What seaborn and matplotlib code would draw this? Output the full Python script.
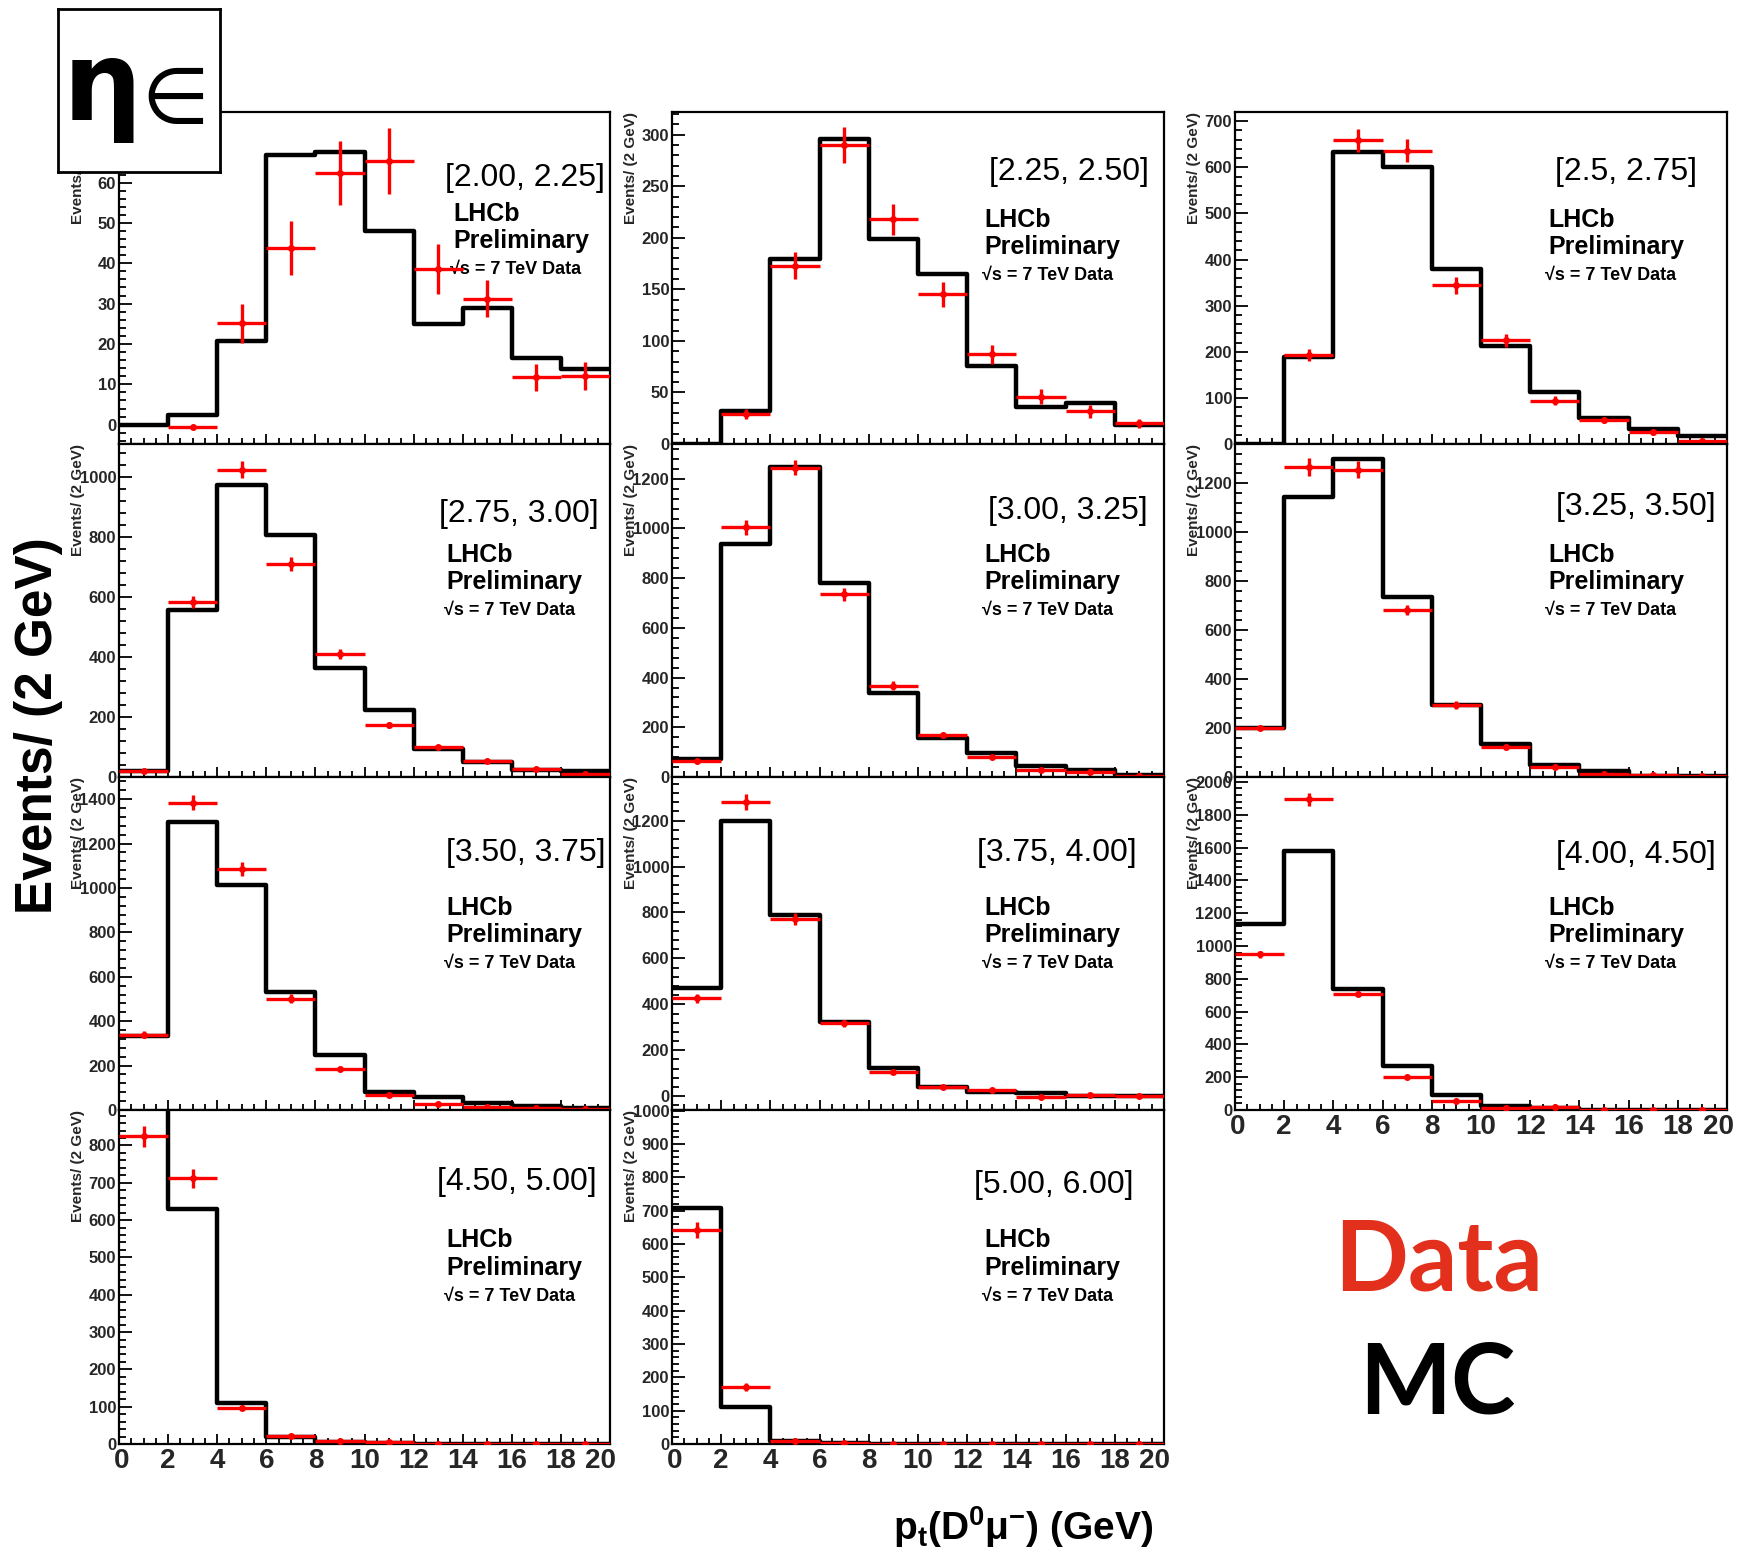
import numpy as np
import matplotlib
matplotlib.use("Agg")
import matplotlib.pyplot as plt
import seaborn as sns
from matplotlib.ticker import MultipleLocator
from matplotlib.transforms import ScaledTranslation

sns.set_theme(style="white")
plt.rcParams['font.family'] = ['Liberation Sans', 'DejaVu Sans']
plt.rcParams['font.weight'] = 'bold'
plt.rcParams['mathtext.fontset'] = 'custom'
plt.rcParams['mathtext.rm'] = 'Liberation Sans:bold'
plt.rcParams['mathtext.bf'] = 'Liberation Sans:bold'
plt.rcParams['mathtext.it'] = 'Liberation Sans:bold:italic'
plt.rcParams['mathtext.sf'] = 'Liberation Sans:bold'
plt.rcParams['mathtext.default'] = 'rm'

# ---------------- data ----------------
bin_edges = [0, 2, 4, 6, 8, 10, 12, 14, 16, 18, 20]
bin_centers = [1, 3, 5, 7, 9, 11, 13, 15, 17, 19]
nan = float('nan')

eta_labels = ["[2.00, 2.25]", "[2.25, 2.50]", "[2.5, 2.75]",
              "[2.75, 3.00]", "[3.00, 3.25]", "[3.25, 3.50]",
              "[3.50, 3.75]", "[3.75, 4.00]", "[4.00, 4.50]",
              "[4.50, 5.00]", "[5.00, 6.00]"]

mc_1 = [0, 2.5, 20.7, 66.8, 67.5, 48.1, 25.0, 28.8, 16.5, 13.9]
data_1 = [nan, -0.5, 25.1, 43.7, 62.3, 65.3, 38.7, 31.2, 11.7, 12.1]
err_1 = [0, 0.5, 4.9, 6.7, 7.9, 8.2, 6.2, 4.6, 3.4, 3.4]

mc_2 = [0, 32.3, 179, 296, 199, 165, 75.8, 35.5, 39.4, 18.4]
data_2 = [nan, 29, 173, 290, 218, 145, 87, 46, 31.6, 20]
err_2 = [0, 5, 13, 17, 15, 12, 9, 7, 6, 4]

mc_3 = [0, 189, 634, 600, 380, 213, 113, 57, 32, 18]
data_3 = [nan, 193, 659, 636, 344, 225, 94, 52, 25, 7]
err_3 = [0, 13, 25, 25, 18, 14, 10, 7, 5, 3]

mc_4 = [19, 557, 972, 806, 364, 223, 95, 50, 22, 20]
data_4 = [19, 585, 1025, 710, 410, 175, 100, 52, 26, 11]
err_4 = [4, 20, 28, 22, 17, 10, 8, 6, 4, 3]

mc_5 = [73, 938, 1249, 780, 338, 158, 97, 43, 30, 10]
data_5 = [64, 1005, 1245, 735, 368, 169, 80, 30, 19, 3]
err_5 = [8, 30, 30, 25, 17, 10, 8, 5, 4, 3]

mc_6 = [202, 1142, 1300, 735, 295, 136, 51, 23, 5, 3]
data_6 = [199, 1266, 1255, 682, 294, 124, 41, 12, 10, 3]
err_6 = [8, 35, 35, 22, 15, 10, 6, 4, 3, 2]

mc_7 = [334, 1298, 1013, 531, 250, 79, 57, 30, 18, 7]
data_7 = [340, 1385, 1085, 501, 184, 67, 27, 15, 10, 4]
err_7 = [15, 35, 30, 20, 10, 6, 5, 4, 3, 2]

mc_8 = [470, 1197, 790, 324, 121, 41, 19, 12, 1, 0]
data_8 = [426, 1280, 772, 317, 106, 38, 29, -3, 4, 1]
err_8 = [20, 35, 25, 15, 10, 6, 5, 4, 2, 1]

mc_9 = [1133, 1578, 735, 271, 92, 27, 10, 0, 0, 0]
data_9 = [949, 1894, 710, 204, 53, 10, 16, 0, 0, 0]
err_9 = [20, 40, 15, 8, 6, 3, 3, 0, 0, 0]

mc_10 = [900, 631, 111, 19, 5, 3, 0, 0, 0, 0]
data_10 = [825, 712, 97, 22, 7, 5, 0, 0, 0, 0]
err_10 = [28, 25, 6, 4, 2, 1, 0, 0, 0, 0]

mc_11 = [707, 112, 10, 4, 0, 0, 0, 0, 0, 0]
data_11 = [642, 172, 10, 3, 1, 0, 0, 0, 0, 0]
err_11 = [25, 12, 3, 2, 1, 0, 0, 0, 0, 0]

mc_all = [mc_1, mc_2, mc_3, mc_4, mc_5, mc_6, mc_7, mc_8, mc_9, mc_10, mc_11]
data_all = [data_1, data_2, data_3, data_4, data_5, data_6, data_7, data_8,
            data_9, data_10, data_11]
err_all = [err_1, err_2, err_3, err_4, err_5, err_6, err_7, err_8, err_9,
           err_10, err_11]

y_limits = [(-4.8, 77.5), (0, 322), (0, 720), (0, 1110), (0, 1340), (0, 1360),
            (0, 1500), (-60, 1390), (0, 2030), (0, 895), (0, 1002)]
y_major = [10, 50, 100, 200, 200, 200, 200, 200, 200, 100, 100]
y_minor = [2, 10, 20, 40, 40, 40, 40, 40, 40, 20, 20]

# ---------------- layout (pixels in 1739 x 1556) ----------------
W, H = 1739, 1556
col_left = [119, 672, 1235]
col_right = [610, 1164, 1727]
row_top = [112, 444, 777, 1110]
row_bot = [444, 777, 1110, 1444]
grid = [(0, 0), (0, 1), (0, 2), (1, 0), (1, 1), (1, 2),
        (2, 0), (2, 1), (2, 2), (3, 0), (3, 1)]
bottom_panels = {8, 9, 10}

lab_pos = [(0.99, 0.80), (0.97, 0.82), (0.94, 0.82), (0.977, 0.79),
           (0.966, 0.80), (0.977, 0.81), (0.99, 0.773), (0.944, 0.773),
           (0.977, 0.767), (0.973, 0.785), (0.937, 0.775)]
lhcb_pos = [(0.68, 0.693), (0.635, 0.675), (0.636, 0.675), (0.666, 0.667),
            (0.635, 0.667), (0.636, 0.667), (0.666, 0.607), (0.635, 0.607),
            (0.636, 0.607), (0.666, 0.61), (0.635, 0.61)]
line_gap1 = 0.082
line_gap2 = 0.168

fig = plt.figure(figsize=(W / 100, H / 100), dpi=100)
fig.patch.set_facecolor('white')

axes = []
for i in range(11):
    r, c = grid[i]
    left = col_left[c] / W
    width = (col_right[c] - col_left[c]) / W
    bottom = 1 - row_bot[r] / H
    height = (row_bot[r] - row_top[r]) / H
    ax = fig.add_axes([left, bottom, width, height])
    ax.set_facecolor('white')
    axes.append(ax)

    sns.histplot(x=bin_centers, weights=mc_all[i], bins=bin_edges,
                 element='step', fill=False, color='black', linewidth=3.2,
                 ax=ax)
    ax.errorbar(bin_centers, data_all[i], xerr=1, yerr=err_all[i], fmt='o',
                color='#ff0000', ms=4, elinewidth=2.4, capsize=0, zorder=5)

    ax.set_xlim(0, 20)
    ax.set_ylim(*y_limits[i])
    ax.xaxis.set_major_locator(MultipleLocator(2))
    ax.xaxis.set_minor_locator(MultipleLocator(0.5))
    ax.yaxis.set_major_locator(MultipleLocator(y_major[i]))
    ax.yaxis.set_minor_locator(MultipleLocator(y_minor[i]))
    ax.tick_params(axis='both', which='both', direction='in', color='black',
                   width=1.3, top=False, right=False, left=True, bottom=True)
    ax.tick_params(axis='y', which='major', length=9, labelsize=12, pad=2)
    ax.tick_params(axis='y', which='minor', length=5)
    ax.tick_params(axis='x', which='major', length=7, labelsize=20, pad=3)
    ax.tick_params(axis='x', which='minor', length=4)
    if i not in bottom_panels:
        ax.tick_params(axis='x', labelbottom=False)
    for sp in ax.spines.values():
        sp.set_color('black')
        sp.set_linewidth(1.6)
    ax.set_xlabel('')
    ax.set_ylabel('')
    ax.text(-0.083, 1.0, "Events/ (2 GeV)", transform=ax.transAxes,
            rotation=90, ha='center', va='top', fontsize=11,
            fontweight='bold', clip_on=False)

    lx, ly = lab_pos[i]
    ax.text(lx, ly, eta_labels[i], transform=ax.transAxes, ha='right',
            va='center', fontsize=23, fontweight='normal', color='black')
    px, py = lhcb_pos[i]
    ax.text(px, py, "LHCb", transform=ax.transAxes, ha='left', va='center',
            fontsize=18, fontweight='bold', color='black')
    ax.text(px, py - line_gap1, "Preliminary", transform=ax.transAxes,
            ha='left', va='center', fontsize=18, fontweight='bold',
            color='black')
    ax.text(px - 0.005, py - line_gap2, "\u221As = 7 TeV Data",
            transform=ax.transAxes, ha='left', va='center', fontsize=13,
            fontweight='bold', color='black')

# nudge edge tick labels inward as in the reference
fig.canvas.draw()
for i in bottom_panels:
    ax = axes[i]
    for tick in ax.xaxis.get_major_ticks():
        pos = tick.get_loc()
        if abs(pos - 20) < 1e-6:
            dx = -9
        elif abs(pos) < 1e-6:
            dx = 3
        else:
            dx = 0
        if dx:
            lab = tick.label1
            lab.set_transform(lab.get_transform() +
                              ScaledTranslation(dx / 100, 0,
                                                fig.dpi_scale_trans))

# global axis titles
fig.text(39 / W, 1 - 726 / H, "Events/ (2 GeV)", rotation=90, ha='center',
         va='center', fontsize=37, fontweight='bold', color='black')
fig.text(1023 / W, 1 - 1527 / H, r"$p_{t}(D^{0}\mu^{-})$ (GeV)",
         ha='center', va='center', fontsize=28, fontweight='bold',
         color='black')

# Data / MC words
fig.text(1439 / W, 1 - 1262 / H, "Data", ha='center', va='center',
         fontsize=70, fontweight='bold', color='#e3301c',
         family=['Lato', 'DejaVu Sans'])
fig.text(1437 / W, 1 - 1385 / H, "MC", ha='center', va='center',
         fontsize=70, fontweight='bold', color='black',
         family=['Lato', 'DejaVu Sans'])

# logo box
lax = fig.add_axes([58 / W, 1 - 172 / H, 162 / W, 163 / H])
lax.set_zorder(20)
lax.set_facecolor('white')
lax.set_xticks([])
lax.set_yticks([])
for sp in lax.spines.values():
    sp.set_color('black')
    sp.set_linewidth(2)
lax.set_xlim(58, 220)
lax.set_ylim(172, 9)
lax.text(102, 120, "η", ha='center', va='baseline', fontsize=80,
         fontweight='bold', family=['DejaVu Sans'], color='black')
lax.text(175, 101, "∈", ha='center', va='center', fontsize=56,
         fontweight='normal', family=['DejaVu Sans'], color='black')

fig.savefig("out.png", dpi=100, facecolor='white')
